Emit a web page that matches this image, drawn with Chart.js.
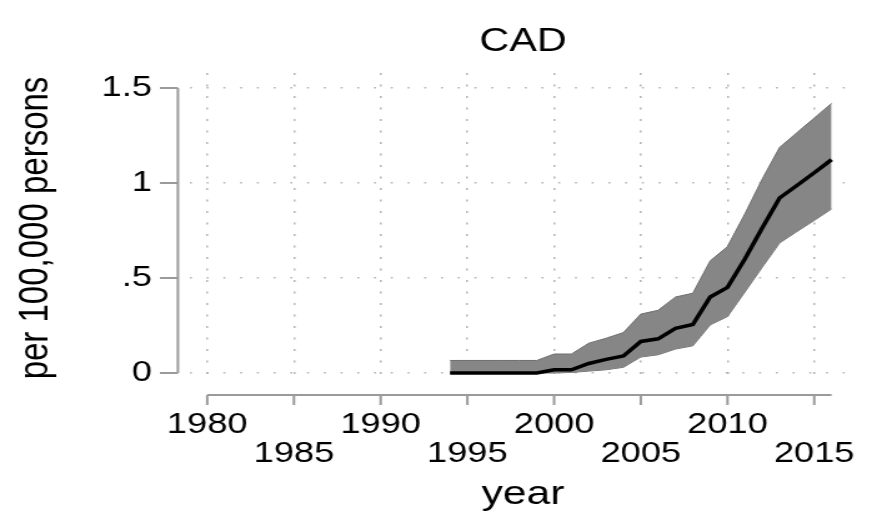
<!DOCTYPE html>
<html>
<head>
<meta charset="utf-8">
<title>CAD</title>
<script src="https://cdn.jsdelivr.net/npm/chart.js@4/dist/chart.umd.min.js"></script>
<style>
  html, body { margin: 0; padding: 0; background: #fff; overflow: hidden; }
  /* the source graph is stretched sideways, so the canvas is too */
  #wrap { width: 714px; height: 525px; transform: scaleX(1.2493); transform-origin: 0 0; }
</style>
</head>
<body>
<div id="wrap"><canvas id="chart" width="714" height="525"></canvas></div>
<script>
const years = [1994, 1995, 1996, 1997, 1998, 1999, 2000, 2001, 2002, 2003, 2004, 2005,
               2006, 2007, 2008, 2009, 2010, 2011, 2012, 2013, 2014, 2015, 2016];
const rate  = [0, 0, 0, 0, 0, 0, 0.017, 0.017, 0.05, 0.072, 0.09, 0.166,
               0.18, 0.235, 0.255, 0.40, 0.451, 0.60, 0.763, 0.921, 0.987, 1.054, 1.123];
const lower = [0, 0, 0, 0, 0, 0, 0, 0.003, 0.01, 0.017, 0.03, 0.084,
               0.096, 0.126, 0.143, 0.253, 0.297, 0.426, 0.556, 0.684, 0.744, 0.803, 0.863];
const upper = [0.066, 0.066, 0.066, 0.066, 0.066, 0.066, 0.10, 0.10, 0.157, 0.183, 0.213, 0.31,
               0.33, 0.40, 0.42, 0.59, 0.666, 0.837, 1.02, 1.187, 1.265, 1.342, 1.419];
const xTicks = [1980, 1985, 1990, 1995, 2000, 2005, 2010, 2015];
const yTicks = [0, 0.5, 1, 1.5];

const font = '"Liberation Sans", Arial, Helvetica, sans-serif';
Chart.defaults.font.family = font;
Chart.defaults.color = '#000';

const pts = arr => years.map((yr, i) => ({ x: yr, y: arr[i] }));

// stata puts the axis lines a little away from the plot region
const offsetAxes = {
  id: 'offsetAxes',
  afterDraw(chart) {
    const { ctx, chartArea, scales: { x, y } } = chart;
    ctx.save();
    ctx.strokeStyle = '#9a9a9a';
    ctx.lineWidth = 2;
    ctx.beginPath();
    const ax = chartArea.left - 9.6;
    ctx.moveTo(ax, y.getPixelForValue(yTicks[yTicks.length - 1]));
    ctx.lineTo(ax, y.getPixelForValue(yTicks[0]));
    yTicks.forEach(v => {
      const py = y.getPixelForValue(v);
      ctx.moveTo(ax - 14.4, py);
      ctx.lineTo(ax, py);
    });
    const ay = chartArea.bottom + 12;
    ctx.moveTo(x.getPixelForValue(xTicks[0]), ay);
    ctx.lineTo(x.getPixelForValue(years[years.length - 1]), ay);
    xTicks.forEach(v => {
      const px = x.getPixelForValue(v);
      ctx.moveTo(px, ay);
      ctx.lineTo(px, ay + 10);
    });
    ctx.stroke();
    ctx.restore();
  }
};

new Chart(document.getElementById('chart'), {
  type: 'line',
  data: {
    datasets: [
      {
        label: 'rate',
        data: pts(rate),
        borderColor: '#000',
        borderWidth: 3.5,
        pointRadius: 0,
        fill: false
      },
      {
        label: 'upper',
        data: pts(upper),
        borderColor: '#6e6e6e',
        borderWidth: 1,
        backgroundColor: '#868686',
        pointRadius: 0,
        fill: '+1'
      },
      {
        label: 'lower',
        data: pts(lower),
        borderColor: '#6e6e6e',
        borderWidth: 1,
        pointRadius: 0,
        fill: false
      }
    ]
  },
  options: {
    responsive: false,
    animation: false,
    layout: { padding: { left: 0, right: 26, top: 0, bottom: 0 } },
    plugins: {
      legend: { display: false },
      tooltip: { enabled: false },
      title: {
        display: true,
        text: 'CAD',
        fullSize: false,
        color: '#000',
        font: { size: 33, weight: 'normal', lineHeight: 1.2 },
        padding: { top: 21.7, bottom: 11.7 }
      }
    },
    scales: {
      x: {
        type: 'linear',
        min: 1979.0,
        max: 2017.42,
        afterBuildTicks: s => { s.ticks = xTicks.map(v => ({ value: v })); },
        afterFit: s => { s.height = 142; },
        grid: { color: '#b4b4b4', lineWidth: 1.5, drawTicks: false },
        border: { display: false, dash: [2, 9.5] },
        ticks: {
          autoSkip: false,
          maxRotation: 0,
          padding: 28.2,
          font: { size: 29, lineHeight: 0.983 },
          callback: v => (v % 10 === 5 ? ['', String(v)] : String(v))
        },
        title: {
          display: true,
          text: 'year',
          font: { size: 34, lineHeight: 1.2 },
          padding: { top: 0, bottom: 9.5 }
        }
      },
      y: {
        type: 'linear',
        min: -0.0526,
        max: 1.579,
        afterBuildTicks: s => { s.ticks = yTicks.map(v => ({ value: v })); },
        afterFit: s => { s.width = 152; },
        grid: { color: '#b4b4b4', lineWidth: 1.5, drawTicks: false },
        border: { display: false, dash: [1.6, 11.8] },
        ticks: {
          padding: 30.4,
          font: { size: 29 },
          callback: v => (v === 0 ? '0' : String(v).replace(/^0\./, '.'))
        },
        title: {
          display: true,
          text: 'per 100,000 persons',
          font: { size: 33, lineHeight: 1.2 },
          padding: { top: 9.5, bottom: 0 }
        }
      }
    }
  },
  plugins: [offsetAxes]
});
</script>
</body>
</html>
